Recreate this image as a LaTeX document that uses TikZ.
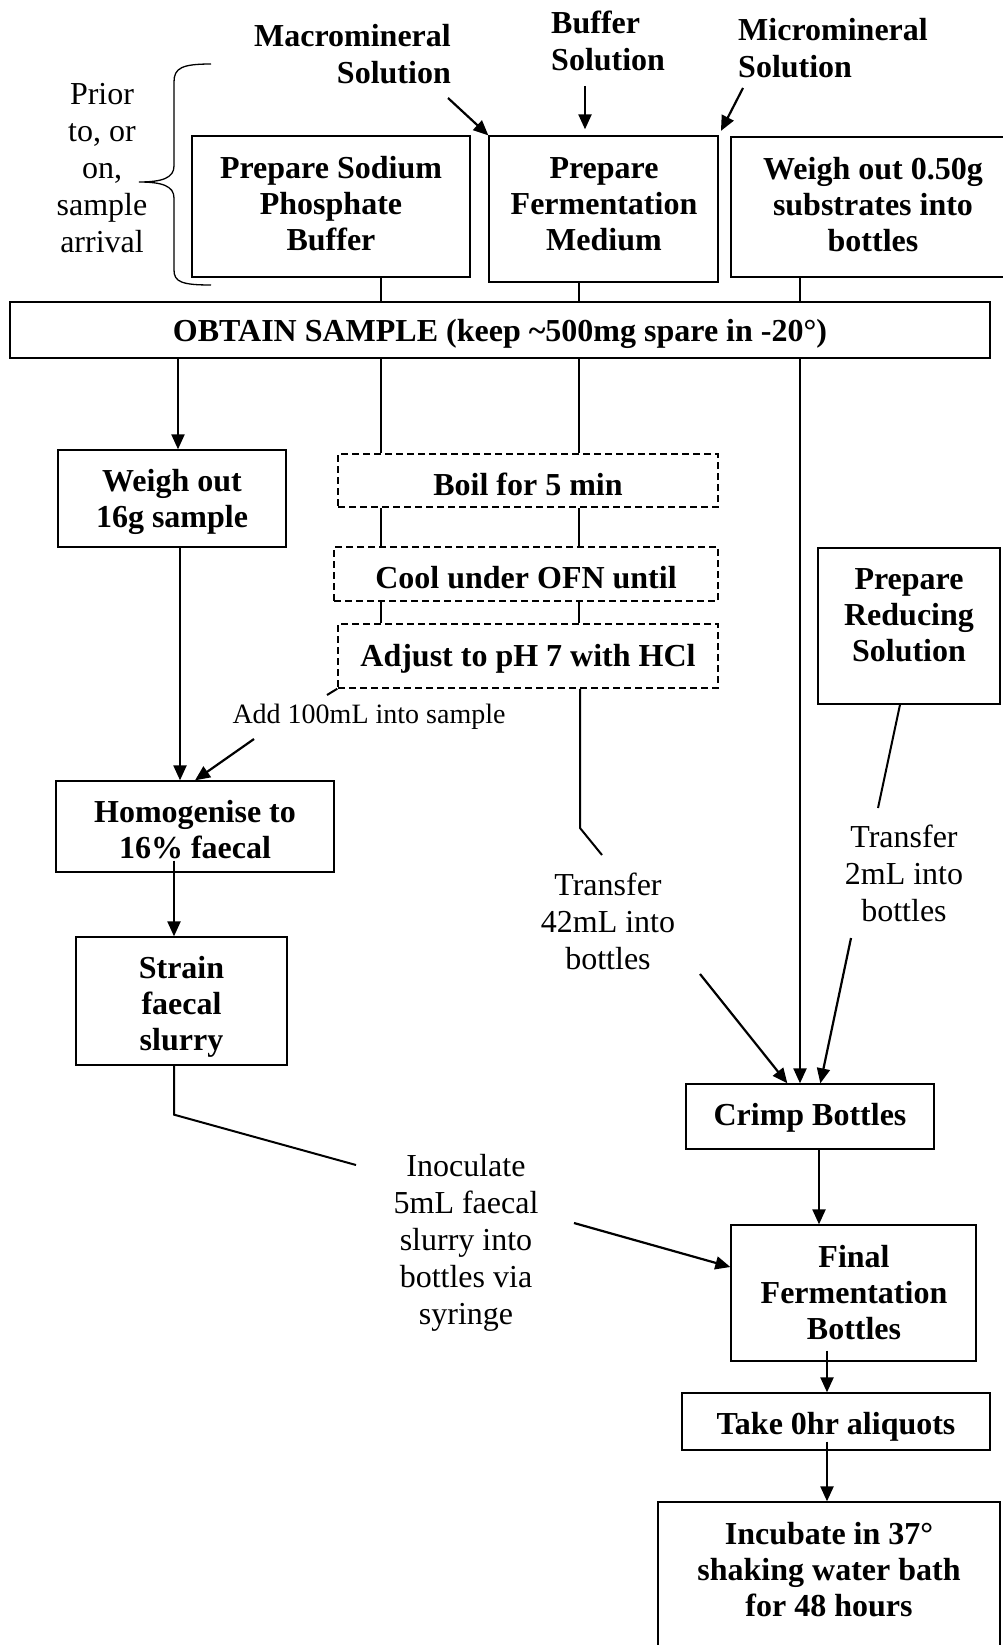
\documentclass[tikz,border=0pt]{standalone}
\usepackage{fontspec}
\setmainfont{Liberation Serif}
\usetikzlibrary{arrows.meta,fit}
\begin{document}
\begin{tikzpicture}[x=1pt,y=-1pt,
  box/.style={draw, line width=1.3pt, inner sep=0pt},
  dbox/.style={box, line width=1.5pt, dash pattern=on 7pt off 4pt},
  btxt/.style={font=\fontsize{32}{36}\selectfont\bfseries, align=center, inner sep=0pt},
  blab/.style={font=\fontsize{32}{37}\selectfont\bfseries, inner sep=0pt},
  lab/.style={font=\fontsize{32}{37}\selectfont, align=center, inner sep=0pt},
  ln/.style={line width=2pt},
  arr/.style={line width=2.2pt, -{Triangle[length=15pt,width=13pt]}},
]
\useasboundingbox (0,0) rectangle (1003,1645);

% column coordinates
\coordinate (colA) at (178,0);
\coordinate (colA2) at (180,0);
\coordinate (colB) at (381,0);
\coordinate (colC) at (579,0);
\coordinate (colD) at (800,0);
\coordinate (colF) at (819,0);

% boxes
\node[box, fit={(192,136)(470,277)}] (sodium) {};
\node[btxt] (sodiumt) at (331,204) {Prepare Sodium\\Phosphate\\Buffer};
\node[box, fit={(489,136)(718,282)}] (ferm) {};
\node[btxt] (fermt) at (604,204) {Prepare\\Fermentation\\Medium};
\node[box, fit={(731,137)(1015,277)}] (w050) {};
\node[btxt] (w050t) at (873,205) {Weigh out 0.50g\\substrates into\\bottles};
\node[box, fit={(10,302)(990,358)}] (obtain) {};
\node[btxt] (obtaint) at (500,334) {OBTAIN SAMPLE (keep \textasciitilde500mg spare in -20°)};
\node[box, fit={(58,450)(286,547)}] (w16) {};
\node[btxt] (w16t) at (172,502) {Weigh out\\16g sample};
\node[dbox, fit={(338,454)(718,507)}] (boil) {};
\node[btxt] (boilt) at (528,484) {Boil for 5 min};
\node[dbox, fit={(334,547)(718,601)}] (cool) {};
\node[btxt] (coolt) at (526,578) {Cool under OFN until};
\node[dbox, fit={(338,624)(718,688)}] (adjust) {};
\node[btxt] (adjustt) at (528,659) {Adjust to pH 7 with HCl};
\node[box, fit={(56,781)(334,872)}] (homog) {};
\node[btxt] (homogt) at (195,830) {Homogenise to\\16\% faecal};
\node[box, fit={(76,937)(287,1065)}] (strain) {};
\node[btxt] (straint) at (181.5,1007) {Strain\\faecal\\slurry};
\node[box, fit={(818,548)(1000,704)}] (reduce) {};
\node[btxt] (reducet) at (909,615) {Prepare\\Reducing\\Solution};
\node[box, fit={(686,1084)(934,1149)}] (crimp) {};
\node[btxt] (crimpt) at (810,1118) {Crimp Bottles};
\node[box, fit={(731,1225)(976,1361)}] (final) {};
\node[btxt] (finalt) at (854,1293) {Final\\Fermentation\\Bottles};
\node[box, fit={(682,1393)(990,1450)}] (take) {};
\node[btxt] (taket) at (836,1427) {Take 0hr aliquots};
\node[box, fit={(658,1502)(1000,1680)}] (incub) {};
\node[btxt] (incubt) at (829,1570) {Incubate in 37°\\shaking water bath\\for 48 hours};

% top labels
\node[blab, align=right, anchor=east] (macro) at (451,54) {Macromineral\\Solution};
\node[blab, align=left, anchor=west] (buffer) at (551,41) {Buffer\\Solution};
\node[blab, align=left, anchor=west] (micro) at (738,48) {Micromineral\\Solution};
\coordinate (macroA) at (448,98);
\coordinate (bufA) at (585,86);
\coordinate (microA) at (743,88);
\draw[arr] (macroA) -- (ferm.north west);
\draw[arr, shorten >=6pt] (bufA) -- (ferm.north -| bufA);
\draw[arr, shorten >=5pt] (microA) -- (ferm.north east);

% prior label and brace
\node[lab, font=\fontsize{32}{37}\selectfont] (prior) at (102,168) {Prior\\to, or\\on,\\sample\\arrival};
\draw[line width=1.3pt] (211,64) .. controls (182,64) and (174,68) .. (174,82) -- (174,166)
  .. controls (174,178) and (162,182) .. (139,182)
  .. controls (162,182) and (174,186) .. (174,198) -- (174,270)
  .. controls (174,282) and (182,285) .. (211,285);

% connectors top to obtain
\draw[ln] (sodium.south -| colB) -- (obtain.north -| colB);
\draw[ln] (ferm.south -| colC) -- (obtain.north -| colC);
\draw[ln] (w050.south -| colD) -- (obtain.north -| colD);

% obtain to below
\draw[arr] (obtain.south -| colA) -- (w16.north -| colA);
\draw[ln] (obtain.south -| colB) -- (boil.north -| colB);
\draw[ln] (obtain.south -| colC) -- (boil.north -| colC);
\draw[arr] (obtain.south -| colD) -- (crimp.north -| colD);
\draw[ln] (boil.south -| colB) -- (cool.north -| colB);
\draw[ln] (boil.south -| colC) -- (cool.north -| colC);
\draw[ln] (cool.south -| colB) -- (adjust.north -| colB);
\draw[ln] (cool.south -| colC) -- (adjust.north -| colC);

% transfer 42 mL
\coordinate (t42a) at (580,828);
\coordinate (t42b) at (602,855);
\coordinate (t42c) at (700,974);
\draw[ln] (adjust.south -| t42a) -- (t42a) -- (t42b);
\draw[arr] (t42c) -- ([xshift=102pt]crimp.north west);
\node[lab] (t42) at (608,921) {Transfer\\42mL into\\bottles};

% transfer 2 mL
\coordinate (t2a) at (878,808);
\coordinate (t2b) at (851,938);
\draw[ln] ([xshift=-9pt]reduce.south) -- (t2a);
\draw[arr] (t2b) -- ([xshift=135pt]crimp.north west);
\node[lab] (t2) at (904,873) {Transfer\\2mL into\\bottles};

% add 100 mL
\coordinate (ad1) at (327,695);
\coordinate (ad2) at (254,739);
\draw[ln] (adjust.south west) -- (ad1);
\draw[arr] (ad2) -- (homog.north);
\node[lab, font=\fontsize{28}{32}\selectfont] (add) at (369,717) {Add 100mL into sample};

% left column
\draw[arr] (w16.south -| colA2) -- (homog.north -| colA2);
\draw[arr] ([xshift=-21pt,yshift=12pt]homog.south) -- ([xshift=-7.5pt]strain.north);

% inoculate
\coordinate (in1) at (356,1165);
\coordinate (in2) at (574,1223);
\draw[ln] ([xshift=-7.5pt]strain.south) -- ++(0,49) -- (in1);
\draw[arr] (in2) -- ([yshift=26pt]final.west);
\node[lab] (inoc) at (466,1243) {Inoculate\\5mL faecal\\slurry into\\bottles via\\syringe};

% right column
\draw[arr] (crimp.south -| colF) -- (final.north -| colF);
\draw[arr] ([xshift=-26.5pt,yshift=11pt]final.south) -- ([xshift=-9pt]take.north);
\draw[arr] ([xshift=-9pt,yshift=9pt]take.south) -- ([xshift=-2pt]incub.north);
\end{tikzpicture}
\end{document}
